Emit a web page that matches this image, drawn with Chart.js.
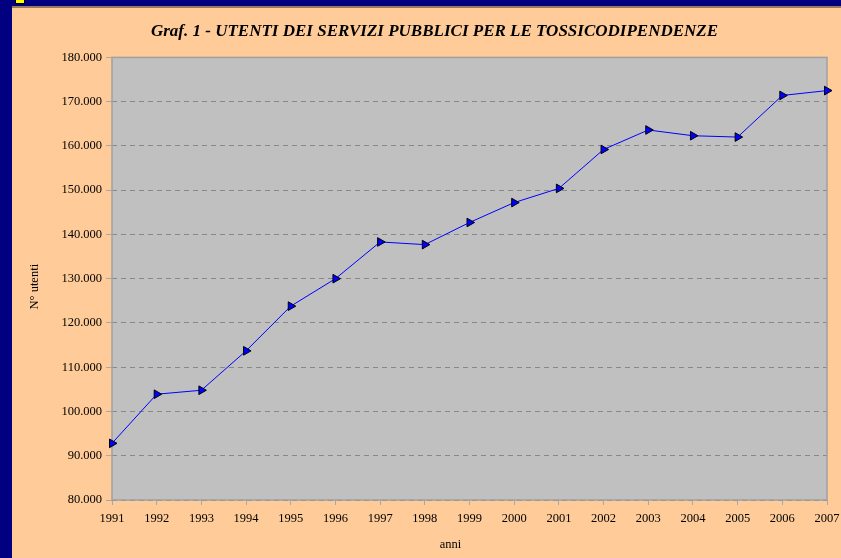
<!DOCTYPE html>
<html><head><meta charset="utf-8">
<style>
html,body{margin:0;padding:0;width:841px;height:558px;overflow:hidden;background:#FFCC99;}
#navyL{position:absolute;left:0;top:0;width:12px;height:558px;background:#000080;}
#navyT{position:absolute;left:0;top:0;width:841px;height:6px;background:#000080;}
#brown{position:absolute;left:12px;top:6px;width:829px;height:2px;background:#9a7a5a;}
#yel{position:absolute;left:15px;top:-1px;width:8px;height:3px;background:#ffff00;border:1px solid #000;}
#wrap{position:absolute;left:12px;top:8px;width:829px;height:550px;}
</style>
<script src="https://cdn.jsdelivr.net/npm/chart.js@4"></script>
</head><body>
<div id="navyL"></div><div id="navyT"></div><div id="brown"></div><div id="yel"></div>
<div id="wrap"><canvas id="c" width="829" height="550"></canvas></div>
<script>
const chartTitle = 'Graf. 1 - UTENTI DEI SERVIZI PUBBLICI PER LE TOSSICODIPENDENZE';
const xTitle = 'anni';
const yTitle = 'N° utenti';
const years = ['1991','1992','1993','1994','1995','1996','1997','1998','1999','2000','2001','2002','2003','2004','2005','2006','2007'];
const utenti = [92800, 103900, 104800, 113700, 123800, 130000, 138300, 137700, 142700, 147200, 150400, 159200, 163600, 162300, 162000, 171400, 172500];
const yMin = 80000, yMax = 180000, yStep = 10000;

const fmt = v => String(v).replace(/\B(?=(\d{3})+(?!\d))/g, '.');
const serif = '"Liberation Serif", "Times New Roman", serif';

const plotDeco = {
  id: 'plotDeco',
  beforeDraw(chart) {
    const {ctx, chartArea: a} = chart;
    ctx.save();
    ctx.fillStyle = '#c0c0c0';
    ctx.fillRect(a.left, a.top, a.right - a.left, a.bottom - a.top);
    ctx.restore();
  },
  beforeDatasetsDraw(chart) {
    const {ctx, chartArea: a} = chart;
    ctx.save();
    ctx.strokeStyle = '#a0a0a0';
    ctx.lineWidth = 1.5;
    ctx.strokeRect(a.left, a.top, a.right - a.left, a.bottom - a.top);
    ctx.restore();
  },
  afterDraw(chart) {
    const {ctx, chartArea: a} = chart;
    ctx.save();
    ctx.fillStyle = '#000';
    ctx.font = '12.5px ' + serif;
    ctx.textAlign = 'center';
    ctx.textBaseline = 'middle';
    ctx.fillText(xTitle, (a.left + a.right) / 2 - 19, 537);
    ctx.translate(23, (a.top + a.bottom) / 2 + 8);
    ctx.rotate(-Math.PI / 2);
    ctx.fillText(yTitle, 0, 0);
    ctx.restore();
  }
};

new Chart(document.getElementById('c'), {
  type: 'line',
  data: {
    labels: years,
    datasets: [{
      data: utenti,
      borderColor: '#0000ff',
      borderWidth: 1,
      tension: 0,
      pointStyle: 'triangle',
      rotation: 90,
      radius: 5,
      pointBackgroundColor: '#0000ff',
      pointBorderColor: '#000000',
      pointBorderWidth: 1
    }]
  },
  options: {
    responsive: false,
    devicePixelRatio: 1,
    animation: false,
    layout: {padding: {left: 30, right: 14, top: 0, bottom: 0}},
    plugins: {
      legend: {display: false},
      tooltip: {enabled: false},
      title: {
        display: true,
        text: chartTitle,
        color: '#000',
        font: {family: serif, size: 17, weight: 'bold', style: 'italic'},
        padding: {top: 13, bottom: 16}
      }
    },
    scales: {
      x: {
        offset: false,
        grid: {display: true, drawOnChartArea: false, drawTicks: true, tickLength: 5, tickColor: '#a8a8a8', tickWidth: 1},
        border: {display: false},
        ticks: {color: '#000', font: {family: serif, size: 12.5}, padding: 6, maxRotation: 0, autoSkip: false},
        afterFit(s) { s.height = 58; s.paddingLeft = 0; s.paddingRight = 0; }
      },
      y: {
        min: yMin, max: yMax,
        grid: {color: '#888888', lineWidth: 1, tickLength: 6, tickColor: '#a8a8a8', tickBorderDash: [], tickWidth: 1},
        border: {display: false, dash: [5, 4]},
        ticks: {stepSize: yStep, color: '#000', font: {family: serif, size: 12.5}, padding: 4, callback: v => fmt(v)},
        afterFit(s) { s.width = 70; }
      }
    }
  },
  plugins: [plotDeco]
});
</script>
</body></html>
